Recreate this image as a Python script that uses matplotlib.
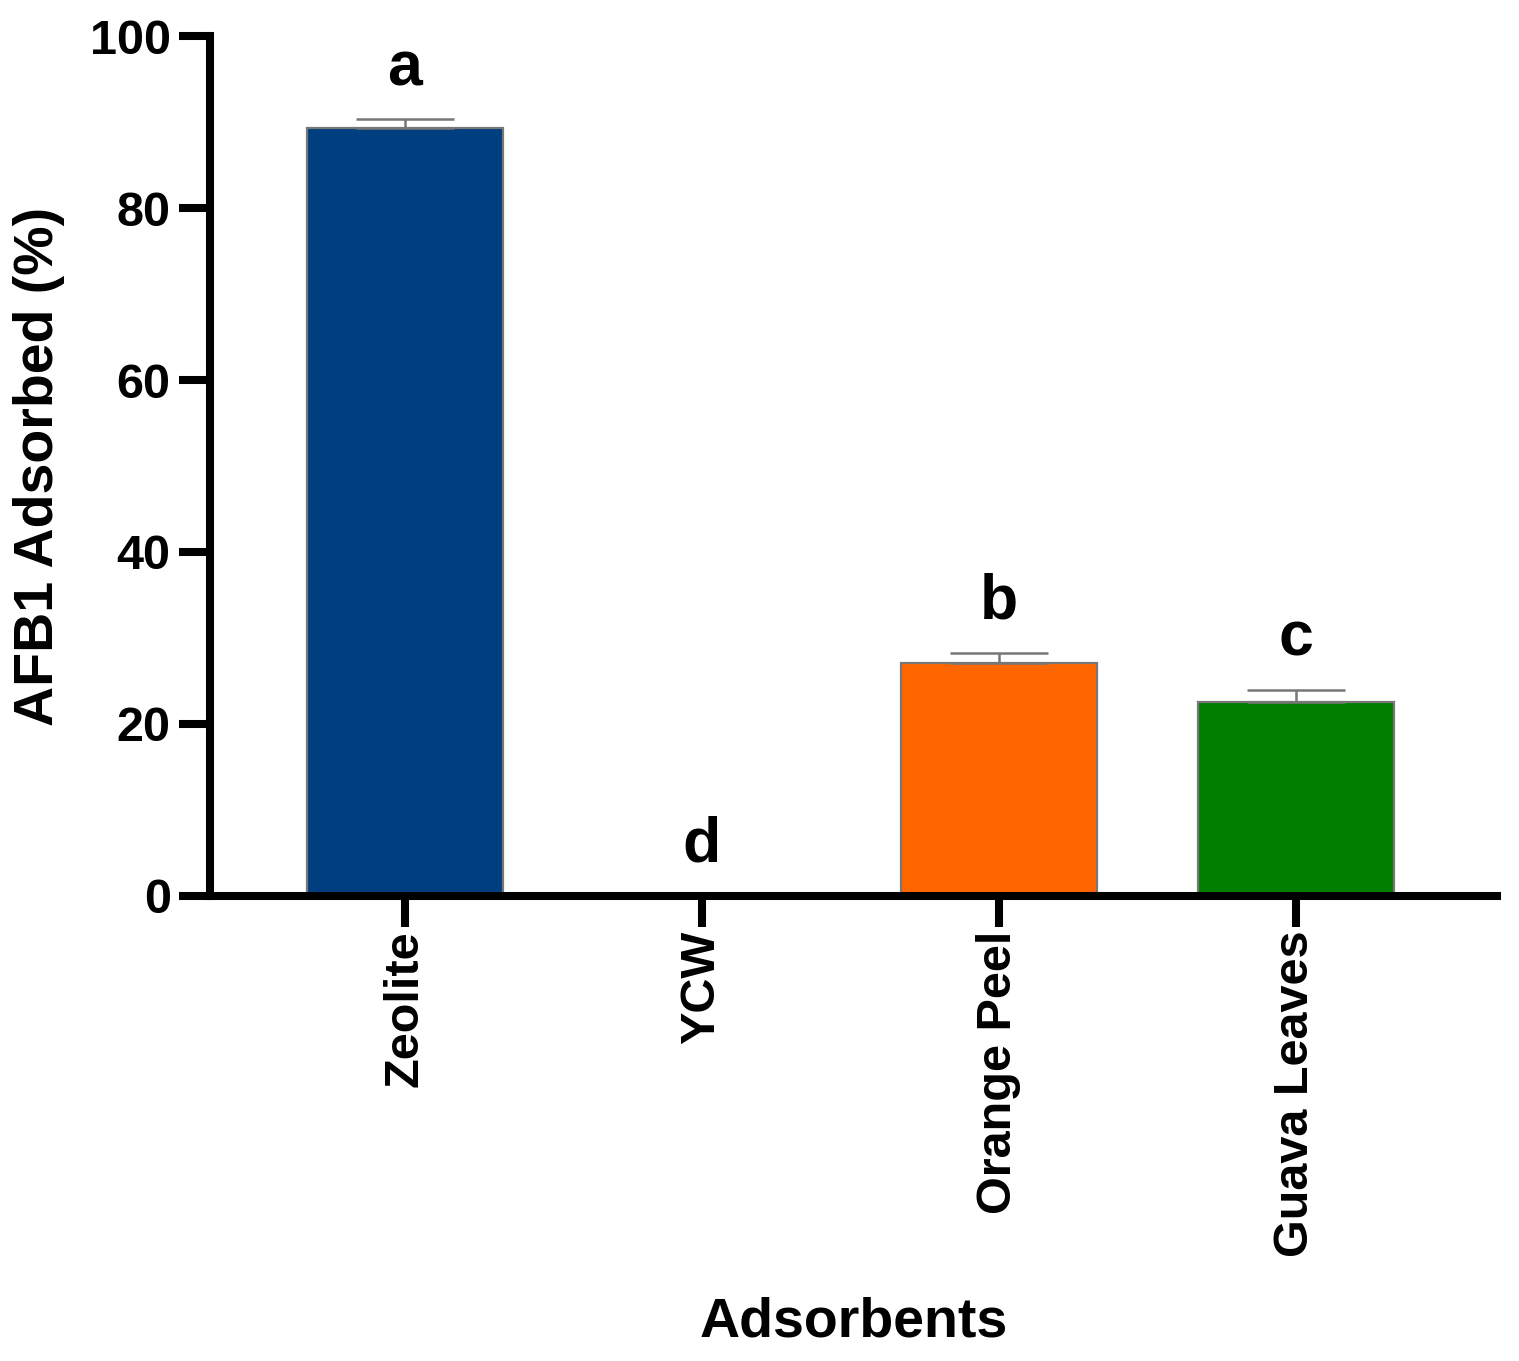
import matplotlib
matplotlib.use("Agg")
import matplotlib.pyplot as plt

categories = ["Zeolite", "YCW", "Orange Peel", "Guava Leaves"]
values = [89.3, 0.0, 27.1, 22.5]
errors = [1.1, 0.0, 1.1, 1.4]
letters = ["a", "d", "b", "c"]
letter_y = [94.3, 4.0, 32.3, 28.0]
colors = ["#003F7F", "#003F7F", "#FF6600", "#007F00"]
yticks = [0, 20, 40, 60, 80, 100]

plt.rcParams['font.family'] = ['Liberation Sans', 'DejaVu Sans']
plt.rcParams['font.weight'] = 'bold'

fig = plt.figure(figsize=(15.19, 13.61), dpi=100)
ax = fig.add_axes([0.138, 0.3417, 0.9855 - 0.138, 0.9735 - 0.3417])

x = list(range(len(categories)))
edges = ["#777777" if v > 0 else "none" for v in values]
ax.bar(x, values, width=0.66, color=colors, edgecolor=edges, linewidth=1.6, zorder=2)
ex = [xi for xi, v in zip(x, values) if v > 0]
ev = [v for v in values if v > 0]
ee = [e for e, v in zip(errors, values) if v > 0]
ax.errorbar(ex, ev, yerr=[[0]*len(ee), ee], fmt='none', ecolor="#777777",
            elinewidth=1.8, capsize=35, capthick=1.8, zorder=3)
for xi, lab, ly in zip(x, letters, letter_y):
    ax.text(xi, ly, lab, ha='center', va='baseline', fontsize=45, fontweight='bold')

ax.set_xlim(-0.657, 3.677)
ax.set_ylim(0, 100)
ax.set_yticks(yticks)
ax.set_xticks(x)
ax.set_xticklabels(categories, rotation=90, fontsize=35, fontweight='bold')
ax.tick_params(axis='y', labelsize=35, width=5.8, length=22, pad=6)
ax.tick_params(axis='x', width=5.8, length=22, pad=3)
for t in ax.get_yticklabels():
    t.set_fontweight('bold')
for s in ['top', 'right']:
    ax.spines[s].set_visible(False)
for s in ['left', 'bottom']:
    ax.spines[s].set_linewidth(5.8)
    ax.spines[s].set_capstyle('projecting')

ax.set_ylabel("AFB1 Adsorbed (%)", fontsize=40, fontweight='bold', labelpad=18)
ax.set_xlabel("Adsorbents", fontsize=40, fontweight='bold', labelpad=28)

fig.savefig("out.png", dpi=100, facecolor='white')
